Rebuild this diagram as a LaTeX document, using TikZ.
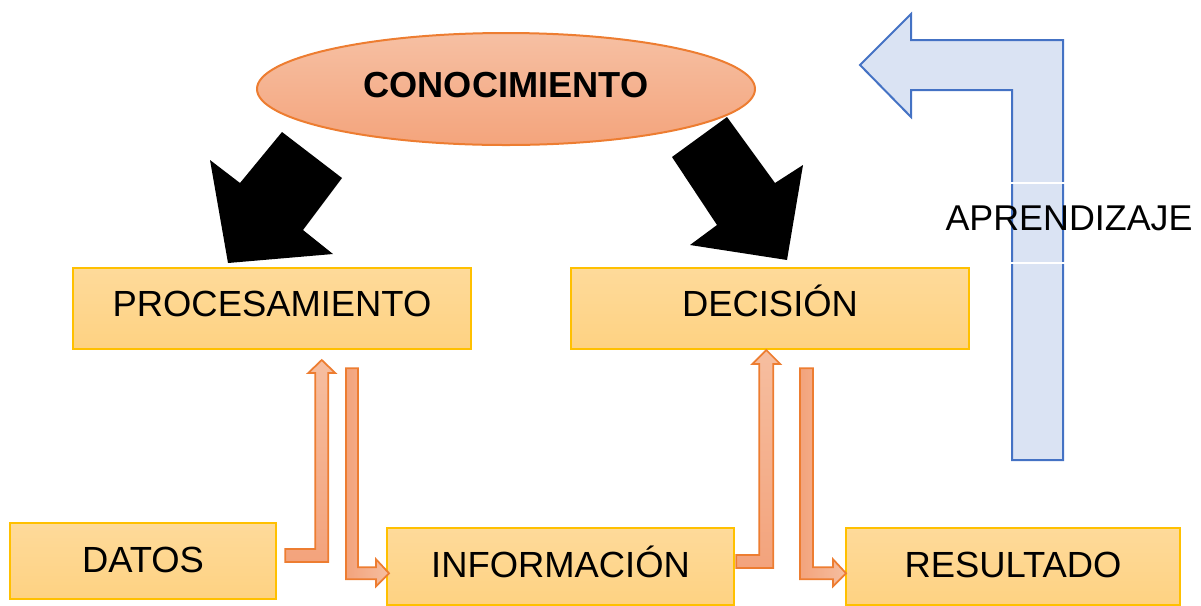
\documentclass[tikz,border=0pt]{standalone}
\usepackage{fontspec}
\setmainfont{Liberation Sans}
\usepackage{xcolor}
\usepackage{tikz}
\usetikzlibrary{calc,positioning,shapes}
\definecolor{boxtop}{RGB}{254,218,154}
\definecolor{boxbot}{RGB}{254,210,130}
\definecolor{boxline}{RGB}{255,192,0}
\definecolor{ovaltop}{RGB}{246,192,163}
\definecolor{ovalbot}{RGB}{244,164,124}
\definecolor{orline}{RGB}{237,125,49}
\definecolor{orlight}{RGB}{246,190,160}
\definecolor{ordark}{RGB}{243,163,124}
\definecolor{bluefill}{RGB}{218,227,243}
\definecolor{blueline}{RGB}{68,114,196}
\tikzset{
  box/.style={draw=boxline, line width=0.5mm, top color=boxtop, bottom color=boxbot, inner sep=0pt,
    font=\fontsize{20.7}{24}\selectfont, text height=14.8pt, text depth=0.8mm},
  topbox/.style={box, minimum width=79.6mm, minimum height=16.2mm, text depth=2.2mm},
  oval/.style={ellipse, draw=orline, line width=0.4mm, top color=ovaltop, bottom color=ovalbot, inner sep=0pt,
    minimum width=99.6mm, minimum height=22.4mm, font=\bfseries\fontsize{20.6}{24}\selectfont, text height=14.7pt, text depth=1.6mm},
  upflow/.style={draw=orline, line width=0.35mm, line join=miter, top color=orlight, bottom color=ordark},
  downflow/.style={draw=orline, line width=0.35mm, line join=miter, left color=ordark, right color=orlight},
  bigarrow/.style={fill=black},
  learn/.style={draw=blueline, line width=0.4mm, fill=bluefill, line join=miter},
  learntext/.style={draw=white, line width=0.3mm, minimum height=16mm, font=\fontsize{20.4}{24}\selectfont, text height=14.6pt, text depth=2mm}
}
\begin{document}
\begin{tikzpicture}[x=0.2mm, y=-0.2mm]
    \useasboundingbox (0,0) rectangle (1201,605);

    \node [oval] (cono) at (506,89) {CONOCIMIENTO};
    \node [topbox] (proc) at (272,308.5) {PROCESAMIENTO};
    \node [topbox] (dec) at (770,308.5) {DECISIÓN};
    \node [box, minimum width=53.2mm, minimum height=15.2mm] (datos) at (143,561) {DATOS};
    \node [box, minimum width=69.4mm, minimum height=15.4mm] (info) at (560.5,566.5) {INFORMACIÓN};
    \node [box, minimum width=66.8mm, minimum height=15.4mm] (res) at (1013,566.5) {RESULTADO};

    % knowledge feeds both steps
    \fill [bigarrow] (282,132) -- (342,178) -- (303,230) -- (333,254) -- (228,263) -- (210,160) -- (240,183) -- cycle;
    \fill [bigarrow] (727,117) -- (672,157) -- (717,225) -- (690,245) -- (787,260) -- (803,165) -- (775,183) -- cycle;

    % bent flow arrows
    \draw [upflow] ($(datos.east)+(8,-12)$) --++(30,0) --++(0,-176) --++(-7,0) --++(13.5,-13) --++(13.5,13)
        --++(-7,0) --++(0,189) --++(-43,0) -- cycle;
    \draw [downflow] ($(proc.south)+(74,18)$) --++(12,0) --++(0,199) --++(18,0) --++(0,-8) --++(13,14)
        --++(-13,13) --++(0,-7) --++(-30,0) -- cycle;
    \draw [upflow] ($(info.east)+(1,-11.5)$) --++(23,0) --++(0,-191) --++(-7,0) --++(14,-14) --++(14,14)
        --++(-7,0) --++(0,204) --++(-37,0) -- cycle;
    \draw [downflow] ($(dec.south)+(30,18)$) --++(13,0) --++(0,199) --++(20,0) --++(0,-8) --++(13,14)
        --++(-13,13) --++(0,-7) --++(-33,0) -- cycle;

    % learning loop
    \draw [learn] (1063,40) -- (911,40) -- (911,14) -- (860,65) -- (911,117) -- (911,90) -- (1012,90)
        -- (1012,460) -- (1063,460) -- cycle;
    \node [learntext] (apr) at (1069,223) {APRENDIZAJE};
\end{tikzpicture}
\end{document}
